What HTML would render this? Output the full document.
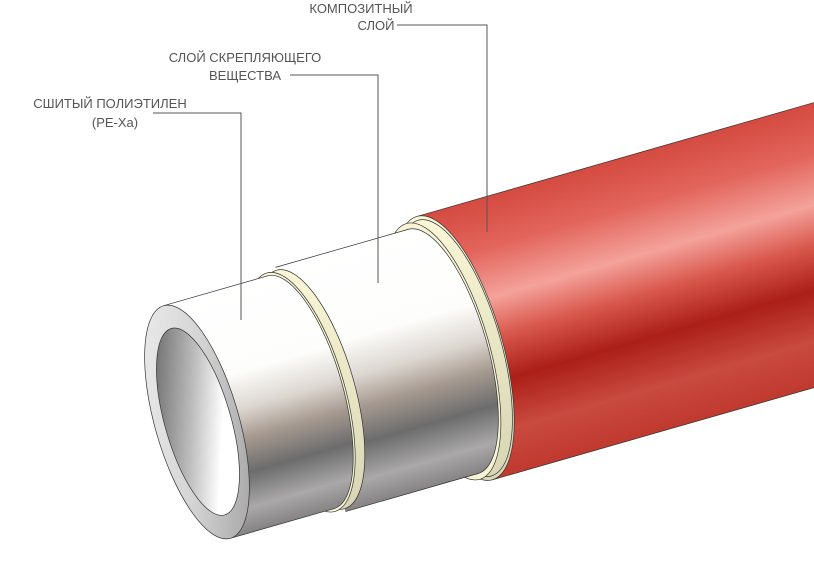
<!DOCTYPE html>
<html><head><meta charset="utf-8"><style>
html,body{margin:0;padding:0;background:#fff;width:814px;height:563px;overflow:hidden}
svg{display:block}
text{font-family:"Liberation Sans",sans-serif;font-size:13px;fill:#555}
</style></head><body>
<svg width="814" height="563" viewBox="0 0 814 563" xmlns="http://www.w3.org/2000/svg">
<defs>
<linearGradient id="red" x1="0" y1="0" x2="0" y2="1">
<stop offset="0" stop-color="#d44a40"/><stop offset="0.18" stop-color="#e2655c"/>
<stop offset="0.36" stop-color="#f4a29b"/><stop offset="0.5" stop-color="#d9584d"/>
<stop offset="0.66" stop-color="#ab1f17"/><stop offset="0.84" stop-color="#c94a40"/>
<stop offset="1" stop-color="#c0392f"/></linearGradient>
<linearGradient id="wht" x1="0" y1="0" x2="0" y2="1">
<stop offset="0" stop-color="#ffffff"/><stop offset="0.35" stop-color="#fdfdfb"/>
<stop offset="0.5" stop-color="#dcd6d0"/><stop offset="0.62" stop-color="#a69a90"/>
<stop offset="0.76" stop-color="#6c6c6d"/><stop offset="0.9" stop-color="#aaa8a8"/>
<stop offset="1" stop-color="#858383"/></linearGradient>
<linearGradient id="yel" x1="0" y1="0" x2="0" y2="1">
<stop offset="0" stop-color="#fbf7d8"/><stop offset="1" stop-color="#d8d6b4"/></linearGradient>
<linearGradient id="face" x1="0" y1="0" x2="1" y2="1">
<stop offset="0" stop-color="#f0f0f0"/><stop offset="0.5" stop-color="#d4d4d4"/><stop offset="1" stop-color="#9a9a9a"/></linearGradient>
<linearGradient id="hole" x1="0" y1="0" x2="1" y2="1">
<stop offset="0" stop-color="#555"/><stop offset="0.45" stop-color="#bdbdbd"/><stop offset="0.7" stop-color="#fff"/><stop offset="1" stop-color="#fff"/></linearGradient>
</defs>
<g transform="translate(197,422) rotate(-16)" stroke="#333" stroke-width="0.7">
<rect x="268" y="-137" width="800" height="274" fill="url(#red)"/>
<ellipse cx="268" cy="0" rx="48" ry="137" fill="url(#yel)"/>
<rect x="256" y="-133" width="12" height="266" fill="url(#yel)" stroke="none"/>
<ellipse cx="268" cy="0" rx="46.5" ry="133" fill="url(#yel)"/>
<ellipse cx="256" cy="0" rx="46.5" ry="133" fill="#f7f4d6"/>
<ellipse cx="256" cy="0" rx="44.5" ry="127" fill="url(#wht)"/>
<rect x="118" y="-127" width="138" height="254" fill="url(#wht)" stroke="none"/>
<line x1="118" y1="-127" x2="256" y2="-127"/><line x1="118" y1="127" x2="256" y2="127"/>
<rect x="108" y="-124" width="10" height="248" fill="url(#yel)" stroke="none"/>
<ellipse cx="118" cy="0" rx="44" ry="124" fill="url(#yel)"/>
<ellipse cx="108" cy="0" rx="44" ry="124" fill="#f7f4d6"/>
<ellipse cx="108" cy="0" rx="42" ry="121" fill="url(#wht)"/>
<rect x="0" y="-121" width="108" height="242" fill="url(#wht)" stroke="none"/>
<line x1="0" y1="-121" x2="108" y2="-121"/><line x1="0" y1="121" x2="108" y2="121"/>
<ellipse cx="0" cy="0" rx="42" ry="121" fill="url(#face)"/>
<ellipse cx="1" cy="0" rx="33" ry="97" fill="url(#hole)"/>
</g>
<g stroke="#555" stroke-width="1" fill="none">
<polyline points="397,25 487,25 487,232"/>
<polyline points="290,75 378,75 378,283"/>
<polyline points="153,113 241,113 241,320"/>
</g>
<text x="361" y="13" text-anchor="middle">КОМПОЗИТНЫЙ</text>
<text x="376" y="30" text-anchor="middle">СЛОЙ</text>
<text x="245" y="62" text-anchor="middle">СЛОЙ СКРЕПЛЯЮЩЕГО</text>
<text x="245" y="80" text-anchor="middle">ВЕЩЕСТВА</text>
<text x="110" y="108" text-anchor="middle">СШИТЫЙ ПОЛИЭТИЛЕН</text>
<text x="115" y="127" text-anchor="middle">(PE-Xa)</text>
</svg>
</body></html>
